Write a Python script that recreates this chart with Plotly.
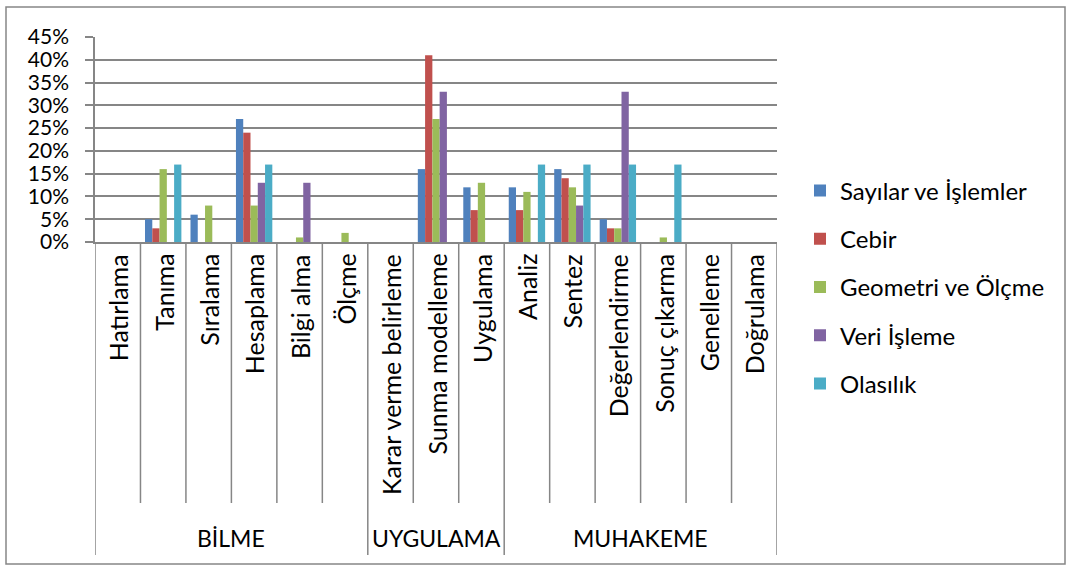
import plotly.graph_objects as go

categories = ["Hatırlama", "Tanıma", "Sıralama", "Hesaplama", "Bilgi alma", "Ölçme",
              "Karar verme belirleme", "Sunma modelleme", "Uygulama",
              "Analiz", "Sentez", "Değerlendirme", "Sonuç çıkarma", "Genelleme", "Doğrulama"]
groups = ["BİLME", "UYGULAMA", "MUHAKEME"]
group_sizes = [6, 3, 6]

series_names = ["Sayılar ve İşlemler", "Cebir", "Geometri ve Ölçme", "Veri İşleme", "Olasılık"]
sayilar = [0, 5, 6, 27, 0, 0, 0, 16, 12, 12, 16, 5, 0, 0, 0]
cebir = [0, 3, 0, 24, 0, 0, 0, 41, 7, 7, 14, 3, 0, 0, 0]
geometri = [0, 16, 8, 8, 1, 2, 0, 27, 13, 11, 12, 3, 1, 0, 0]
veri = [0, 0, 0, 13, 13, 0, 0, 33, 0, 0, 8, 33, 0, 0, 0]
olasilik = [0, 17, 0, 17, 0, 0, 0, 0, 0, 17, 17, 17, 17, 0, 0]
series_values = [sayilar, cebir, geometri, veri, olasilik]
colors = ["#4F81BD", "#C0504D", "#9BBB59", "#8064A2", "#4BACC6"]

FONT = "Lato"
GRID = "#868686"

W, H = 1067, 565
L, R, T, B = 95, 290, 37, 323
pw, ph = W - L - R, H - T - B


def px_y(py):
    return (H - B - py) / ph


def px_x(px):
    return (px - L) / pw


fig = go.Figure()
for i, (name, vals) in enumerate(zip(series_names, series_values)):
    fig.add_trace(go.Bar(
        x=categories, y=vals, name=name, marker_color=colors[i],
        marker_line=dict(width=0), legendgroup=name,
    ))

annotations = []
for c in categories:
    annotations.append(dict(
        x=c, xref="x", y=px_y(252), yref="paper", text=c, showarrow=False,
        textangle=-90, xanchor="center", yanchor="top",
        font=dict(family=FONT, size=25, color="black"),
    ))

shapes = []
start = 0
for g, n in zip(groups, group_sizes):
    annotations.append(dict(
        x=start + (n - 1) / 2, xref="x", y=px_y(538), yref="paper", text=g,
        showarrow=False, xanchor="center", yanchor="middle",
        font=dict(family=FONT, size=23, color="black"),
    ))
    start += n

boundaries = [0]
for n in group_sizes:
    boundaries.append(boundaries[-1] + n)
for k in range(len(categories) + 1):
    is_group = k in boundaries
    shapes.append(dict(
        type="line", xref="x", yref="paper", x0=k - 0.5, x1=k - 0.5,
        y0=0, y1=px_y(555 if is_group else 503),
        line=dict(color=GRID, width=1.5),
    ))

# outer chart frame
shapes.append(dict(
    type="rect", xref="paper", yref="paper",
    x0=px_x(6), x1=px_x(1065), y0=px_y(564), y1=px_y(7),
    line=dict(color=GRID, width=1.5), fillcolor="rgba(0,0,0,0)",
))

fig.update_layout(
    width=W, height=H,
    margin=dict(l=L, r=R, t=T, b=B, pad=0),
    paper_bgcolor="white", plot_bgcolor="white",
    barmode="group", bargap=0.2, bargroupgap=0,
    font=dict(family=FONT, size=25, color="black"),
    showlegend=True,
    legend=dict(
        x=px_x(800), xanchor="left", y=px_y(287), yanchor="middle",
        traceorder="grouped", tracegroupgap=14,
        font=dict(family=FONT, size=24, color="black"),
        bgcolor="rgba(0,0,0,0)",
    ),
    xaxis=dict(
        type="category", showticklabels=False, showgrid=False,
        showline=True, linecolor=GRID, linewidth=1.5, ticks="",
        range=[-0.5, len(categories) - 0.5],
    ),
    yaxis=dict(
        range=[0, 45], dtick=5, ticksuffix="%",
        showgrid=True, gridcolor=GRID, gridwidth=1.5,
        showline=True, linecolor=GRID, linewidth=1.5,
        ticks="outside", ticklen=8, tickcolor=GRID, tickwidth=1.5,
        zeroline=False, ticklabelstandoff=12,
        tickfont=dict(family=FONT, size=21, color="black"),
    ),
    annotations=annotations,
    shapes=shapes,
)

fig.write_html("out.html", config={"displayModeBar": False},
               post_script="document.body.style.margin='0';")
